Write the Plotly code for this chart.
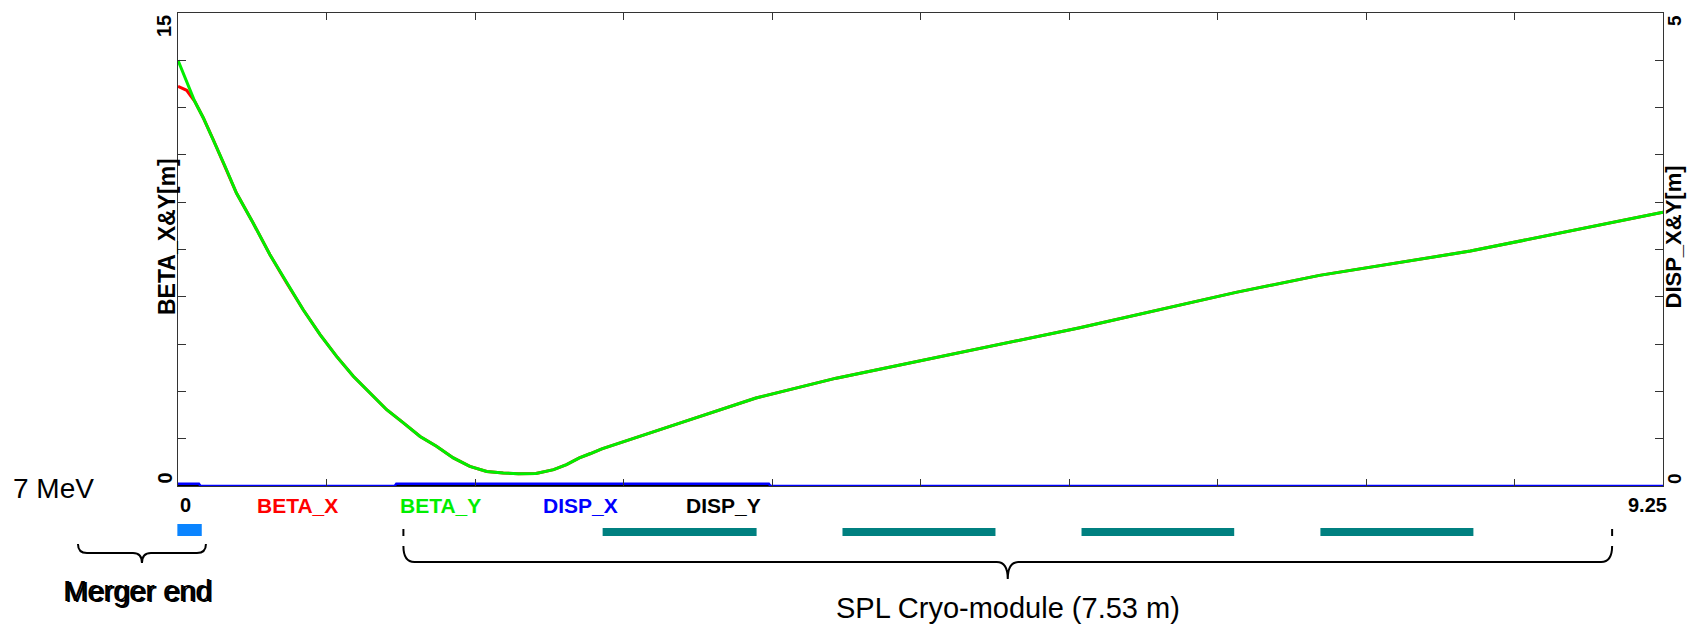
import plotly.graph_objects as go

# ---------------- data ----------------
s_pos = [0.00, 0.054, 0.104, 0.158, 0.22, 0.293, 0.364, 0.468, 0.572, 0.677, 0.78, 0.885,
         0.988, 1.092, 1.196, 1.30, 1.404, 1.508, 1.61, 1.715, 1.818, 1.923, 2.026, 2.12,
         2.23, 2.34, 2.42, 2.50, 2.57, 2.64, 3.13, 3.60, 4.10, 5.08, 5.61, 6.59, 7.11,
         8.05, 9.25]
beta_y = [13.50, 12.83, 12.20, 11.67, 10.98, 10.14, 9.29, 8.34, 7.34, 6.44, 5.59, 4.80,
          4.11, 3.48, 2.95, 2.42, 2.00, 1.57, 1.26, 0.89, 0.62, 0.46, 0.41, 0.39,
          0.40, 0.52, 0.68, 0.89, 1.03, 1.18, 2.00, 2.79, 3.42, 4.45, 5.01, 6.14, 6.68,
          7.45, 8.68]
beta_x = [12.67, 12.55, 12.20, 11.67, 10.98, 10.14, 9.29, 8.34, 7.34, 6.44, 5.59, 4.80,
          4.11, 3.48, 2.95, 2.42, 2.00, 1.57, 1.26, 0.89, 0.62, 0.46, 0.41, 0.39,
          0.40, 0.52, 0.68, 0.89, 1.03, 1.18, 2.00, 2.79, 3.42, 4.45, 5.01, 6.14, 6.68,
          7.45, 8.68]

disp_s = [0.0, 0.13, 0.14, 1.35, 1.36, 3.68, 3.69, 9.25]
disp_x = [0.025, 0.025, 0.0, 0.0, 0.025, 0.025, 0.0, 0.0]
disp_y = [0.0, 0.0, 0.0, 0.0, 0.0, 0.0, 0.0, 0.0]

series_names = ["BETA_X", "BETA_Y", "DISP_X", "DISP_Y"]
series_colors = ["#ff0000", "#00ee00", "#0000ff", "#000000"]

x_tick_labels = ["0", "9.25"]
y_left_labels = ["0", "15"]
y_right_labels = ["0", "5"]

merger_elem = [-0.004, 0.148]
cavity_start = [2.645, 4.139, 5.628, 7.116]
cavity_end = [3.604, 5.092, 6.579, 8.069]
merger_brace = [-0.623, 0.174]
spl_brace = [1.404, 8.933]

S_MAX = 9.25
FONT = "Liberation Sans, Arial, sans-serif"

# ---------------- figure ----------------
fig = go.Figure()
fig.add_trace(go.Scatter(x=s_pos, y=beta_x, mode="lines", name=series_names[0],
                         line=dict(color=series_colors[0], width=3)))
fig.add_trace(go.Scatter(x=s_pos, y=beta_y, mode="lines", name=series_names[1],
                         line=dict(color=series_colors[1], width=3)))
fig.add_trace(go.Scatter(x=disp_s, y=disp_y, mode="lines", name=series_names[3], yaxis="y2",
                         line=dict(color=series_colors[3], width=2)))
fig.add_trace(go.Scatter(x=disp_s, y=disp_x, mode="lines", name=series_names[2], yaxis="y2",
                         line=dict(color=series_colors[2], width=2.5)))

axis_col = "#333333"
L, R, T, B = 178, 24, 13, 141
W, H = 1687, 627
PLOT_W = W - L - R
PLOT_H = H - T - B

fig.update_layout(
    width=W, height=H,
    margin=dict(l=L, r=R, t=T, b=B),
    paper_bgcolor="white", plot_bgcolor="white",
    showlegend=False,
    font=dict(family=FONT, color="black"),
    xaxis=dict(range=[0, S_MAX], tickmode="array",
               tickvals=[i * S_MAX / 10 for i in range(11)],
               ticktext=[""] * 11, ticks="inside", ticklen=7, tickcolor=axis_col,
               showline=True, linecolor=axis_col, linewidth=1, mirror="ticks",
               showgrid=False, zeroline=False),
    yaxis=dict(range=[0, 15], tickmode="array",
               tickvals=[i * 1.5 for i in range(11)], ticktext=[""] * 11,
               ticks="inside", ticklen=8, tickcolor=axis_col,
               showline=True, linecolor=axis_col, linewidth=1, mirror=True,
               showgrid=False, zeroline=False),
    yaxis2=dict(range=[0, 5], overlaying="y", side="right", tickmode="array",
                tickvals=[i * 0.5 for i in range(11)], ticktext=[""] * 11,
                ticks="inside", ticklen=8, tickcolor=axis_col,
                showline=True, linecolor=axis_col, linewidth=1,
                showgrid=False, zeroline=False),
)


def py(pix):
    """pixel row -> paper y"""
    return (H - B - pix) / PLOT_H


def px_of_s(s):
    return L + s / S_MAX * PLOT_W


def paper_x(pix):
    return (pix - L) / PLOT_W


ann = []
# y tick labels (rotated)
ann.append(dict(xref="paper", yref="y", x=0, y=15, text="<b>%s</b>" % y_left_labels[1],
                textangle=-90, xanchor="right", yanchor="top", xshift=-1,
                showarrow=False, font=dict(size=20)))
ann.append(dict(xref="paper", yref="y", x=0, y=0, text="<b>%s</b>" % y_left_labels[0],
                textangle=-90, xanchor="right", yanchor="bottom", xshift=-1,
                showarrow=False, font=dict(size=20)))
ann.append(dict(xref="paper", yref="y2", x=1, y=5, text="<b>%s</b>" % y_right_labels[1],
                textangle=-90, xanchor="right", yanchor="top", xshift=R,
                showarrow=False, font=dict(size=19)))
ann.append(dict(xref="paper", yref="y2", x=1, y=0, text="<b>%s</b>" % y_right_labels[0],
                textangle=-90, xanchor="right", yanchor="bottom", xshift=R,
                showarrow=False, font=dict(size=19)))
# axis titles
ann.append(dict(xref="paper", yref="paper", x=0, y=py(237), text="<b>BETA_X&Y[m]</b>",
                textangle=-90, xanchor="center", yanchor="middle", xshift=-11,
                showarrow=False, font=dict(size=23)))
ann.append(dict(xref="paper", yref="paper", x=1, y=py(237), text="<b>DISP_X&Y[m]</b>",
                textangle=-90, xanchor="right", yanchor="middle", xshift=R,
                showarrow=False, font=dict(size=22)))
# x tick labels
ann.append(dict(xref="x", yref="paper", x=0, y=py(505), text="<b>%s</b>" % x_tick_labels[0],
                xanchor="left", yanchor="middle", xshift=0,
                showarrow=False, font=dict(size=20)))
ann.append(dict(xref="x", yref="paper", x=S_MAX, y=py(505), text="<b>%s</b>" % x_tick_labels[1],
                xanchor="right", yanchor="middle", xshift=6,
                showarrow=False, font=dict(size=20)))
# legend-like labels
legend_px = [297.5, 440.8, 580.8, 723.0]
for name, col, pxl in zip(series_names, series_colors, legend_px):
    ann.append(dict(xref="paper", yref="paper", x=paper_x(pxl), y=py(505),
                    text="<b>%s</b>" % name, xanchor="center", yanchor="middle",
                    showarrow=False, font=dict(size=21, color=col)))
# 7 MeV
ann.append(dict(xref="paper", yref="paper", x=paper_x(54), y=py(488), text="7 MeV",
                xanchor="center", yanchor="middle", showarrow=False, font=dict(size=28)))
# Merger end (double-struck look)
merger_mid_px = (px_of_s(merger_brace[0]) + px_of_s(merger_brace[1])) / 2
for dx, dy in [(-1, 0), (1, -1)]:
    ann.append(dict(xref="paper", yref="paper", x=paper_x(merger_mid_px - 4), y=py(591),
                    text="Merger end", xanchor="center", yanchor="middle",
                    xshift=dx, yshift=dy, showarrow=False,
                    font=dict(size=29, color="black")))
ann.append(dict(xref="x", yref="paper", x=(spl_brace[0] + spl_brace[1]) / 2, y=py(626),
                yanchor="bottom", text="SPL Cryo-module (7.53 m)", xanchor="center",
                showarrow=False, font=dict(size=29)))
fig.update_layout(annotations=ann)

shapes = []
# merger element
shapes.append(dict(type="rect", xref="paper", yref="paper",
                   x0=paper_x(px_of_s(merger_elem[0])), x1=paper_x(px_of_s(merger_elem[1])),
                   y0=py(536), y1=py(524), fillcolor="#0a84ff", line=dict(width=0)))
# cavities
for a, b in zip(cavity_start, cavity_end):
    shapes.append(dict(type="rect", xref="x", yref="paper", x0=a, x1=b,
                       y0=py(536), y1=py(528), fillcolor="#008080", line=dict(width=0)))


def brace(s0, s1, ytop, yline, ybot, r_px=10):
    x0, x1 = paper_x(px_of_s(s0)), paper_x(px_of_s(s1))
    r = r_px / PLOT_W
    mid = (x0 + x1) / 2
    yt, yl, yb = py(ytop), py(yline), py(ybot)
    return ("M %f,%f Q %f,%f %f,%f L %f,%f Q %f,%f %f,%f Q %f,%f %f,%f L %f,%f Q %f,%f %f,%f" %
            (x0, yt, x0, yl, x0 + r, yl, mid - r, yl, mid, yl, mid, yb,
             mid, yl, mid + r, yl, x1 - r, yl, x1, yl, x1, yt))


shapes.append(dict(type="path", xref="paper", yref="paper",
                   path=brace(merger_brace[0], merger_brace[1], 544, 553, 563, 9),
                   line=dict(color="black", width=2)))
shapes.append(dict(type="path", xref="paper", yref="paper",
                   path=brace(spl_brace[0], spl_brace[1], 546, 562, 579, 11),
                   line=dict(color="black", width=2)))
for sx in spl_brace:
    shapes.append(dict(type="line", xref="x", yref="paper", x0=sx, x1=sx,
                       y0=py(536), y1=py(529), line=dict(color="black", width=2)))
fig.update_layout(shapes=shapes)

fig.write_html("out.html")
